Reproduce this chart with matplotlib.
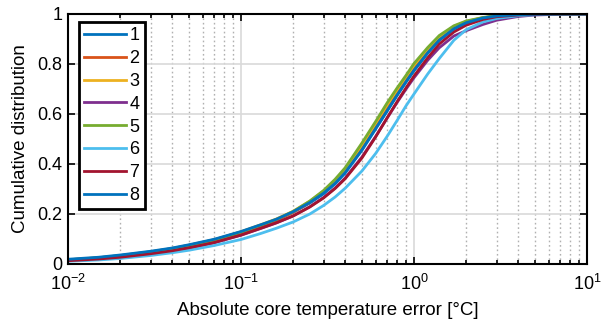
import matplotlib.pyplot as plt

plt.rcParams["font.family"] = ["Liberation Sans", "DejaVu Sans"]

# valores (erro absoluto em °C)
err = [0.01, 0.015, 0.02, 0.03, 0.04, 0.05, 0.07, 0.1, 0.13, 0.16, 0.2, 0.25,
       0.3, 0.35, 0.4, 0.5, 0.6, 0.7, 0.8, 0.9, 1.0, 1.2, 1.4, 1.7, 2.0, 2.5,
       3.0, 4.0, 5.0, 7.0, 10.0]

cdf_1 = [0.017, 0.025, 0.034, 0.049, 0.062, 0.075, 0.097, 0.128, 0.155, 0.177,
         0.207, 0.244, 0.281, 0.321, 0.364, 0.455, 0.540, 0.612, 0.675, 0.728,
         0.773, 0.844, 0.895, 0.940, 0.964, 0.983, 0.991, 0.997, 0.999, 1.0, 1.0]
cdf_2 = [0.016, 0.024, 0.032, 0.047, 0.060, 0.072, 0.094, 0.125, 0.152, 0.175,
         0.206, 0.246, 0.286, 0.328, 0.373, 0.470, 0.556, 0.630, 0.692, 0.743,
         0.790, 0.856, 0.906, 0.948, 0.969, 0.985, 0.992, 0.997, 0.999, 1.0, 1.0]
cdf_3 = [0.017, 0.025, 0.033, 0.048, 0.062, 0.075, 0.097, 0.129, 0.157, 0.180,
         0.211, 0.251, 0.291, 0.333, 0.378, 0.476, 0.562, 0.636, 0.697, 0.748,
         0.795, 0.860, 0.909, 0.950, 0.970, 0.985, 0.992, 0.997, 0.999, 1.0, 1.0]
cdf_4 = [0.013, 0.019, 0.026, 0.040, 0.052, 0.064, 0.085, 0.115, 0.142, 0.164,
         0.192, 0.229, 0.266, 0.304, 0.344, 0.428, 0.510, 0.584, 0.647, 0.700,
         0.745, 0.815, 0.865, 0.912, 0.933, 0.958, 0.975, 0.990, 0.996, 0.999, 1.0]
cdf_5 = [0.016, 0.024, 0.032, 0.047, 0.060, 0.073, 0.095, 0.127, 0.155, 0.178,
         0.210, 0.252, 0.294, 0.339, 0.385, 0.484, 0.570, 0.645, 0.705, 0.755,
         0.802, 0.866, 0.914, 0.953, 0.972, 0.986, 0.993, 0.997, 0.999, 1.0, 1.0]
cdf_6 = [0.011, 0.016, 0.022, 0.034, 0.045, 0.055, 0.074, 0.098, 0.122, 0.143,
         0.168, 0.200, 0.234, 0.268, 0.303, 0.372, 0.442, 0.511, 0.575, 0.633,
         0.680, 0.760, 0.822, 0.895, 0.937, 0.968, 0.982, 0.993, 0.997, 1.0, 1.0]
cdf_7 = [0.013, 0.020, 0.027, 0.041, 0.053, 0.065, 0.086, 0.116, 0.143, 0.165,
         0.192, 0.228, 0.264, 0.302, 0.341, 0.424, 0.508, 0.585, 0.650, 0.705,
         0.752, 0.825, 0.880, 0.928, 0.955, 0.978, 0.989, 0.996, 0.998, 1.0, 1.0]
cdf_8 = [0.019, 0.027, 0.036, 0.051, 0.064, 0.077, 0.099, 0.130, 0.157, 0.179,
         0.209, 0.246, 0.283, 0.323, 0.366, 0.457, 0.542, 0.614, 0.677, 0.730,
         0.775, 0.845, 0.896, 0.941, 0.965, 0.984, 0.992, 0.997, 0.999, 1.0, 1.0]

series = [cdf_1, cdf_2, cdf_3, cdf_4, cdf_5, cdf_6, cdf_7, cdf_8]
labels = ["1", "2", "3", "4", "5", "6", "7", "8"]
cores = ["#0072BD", "#D95319", "#EDB120", "#7E2F8E", "#77AC30", "#4DBEEE",
         "#A2142F", "#0072BD"]

fig = plt.figure(figsize=(6.06, 3.22), dpi=100)
ax = fig.add_axes([68 / 606, 58 / 322, 519 / 606, 250 / 322])

for y, lab, c in zip(series, labels, cores):
    ax.plot(err, y, color=c, linewidth=2.0, label=lab)

ax.set_xscale("log")
ax.set_xlim(0.01, 10)
ax.set_ylim(0, 1)
ax.set_yticks([0, 0.2, 0.4, 0.6, 0.8, 1])
ax.set_yticklabels(["0", "0.2", "0.4", "0.6", "0.8", "1"])

ax.grid(True, which="major", color="#d9d9d9", linewidth=1.2, linestyle="-")
ax.grid(True, which="minor", axis="x", color="#b0b0b0", linewidth=1.0,
        linestyle=(0, (1.2, 2.0)))
ax.set_axisbelow(True)

ax.tick_params(which="both", direction="in", top=True, right=True,
               labelsize=13, width=1.2)
ax.tick_params(which="major", length=5)
ax.tick_params(which="minor", length=3)
ax.tick_params(axis="x", which="both", pad=7)
ax.tick_params(axis="y", which="both", pad=4)
for s in ax.spines.values():
    s.set_linewidth(1.5)

ax.set_xlabel("Absolute core temperature error [°C]", fontsize=13.5, labelpad=6)
ax.set_ylabel("Cumulative distribution", fontsize=13.5, labelpad=6)

leg = ax.legend(loc="upper left", bbox_to_anchor=(0.021, 0.968), fontsize=13,
                handlelength=2.3, labelspacing=0.32, borderpad=0.3,
                handletextpad=0.2, borderaxespad=0, fancybox=False,
                framealpha=1)
leg.get_frame().set_edgecolor("black")
leg.get_frame().set_linewidth(2.0)

fig.savefig("out.png", dpi=100)
